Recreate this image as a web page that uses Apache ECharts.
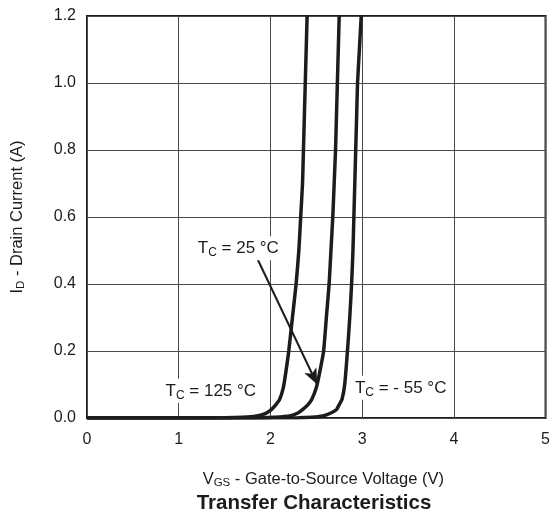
<!DOCTYPE html>
<html>
<head>
<meta charset="utf-8">
<script src="https://cdn.jsdelivr.net/npm/echarts@6/dist/echarts.min.js"></script>
<style>
  html, body { margin: 0; padding: 0; background: #fff; }
  #chart { width: 553px; height: 516px; }
</style>
</head>
<body>
<div id="chart"></div>
<script>
// Transfer characteristics: drain current vs gate-to-source voltage at three case temperatures
const xTicks = [0, 1, 2, 3, 4, 5];
const yTicks = ['0.0', '0.2', '0.4', '0.6', '0.8', '1.0', '1.2'];

// [VGS (V), ID (A)]
const curve125 = [
  [0, 0], [1.5, 0.0005], [1.7, 0.002], [1.85, 0.006], [1.95, 0.014], [2.01, 0.025],
  [2.06, 0.04], [2.10, 0.055], [2.14, 0.09], [2.17, 0.14], [2.20, 0.20], [2.24, 0.30],
  [2.28, 0.40], [2.31, 0.50], [2.33, 0.60], [2.35, 0.70], [2.36, 0.80], [2.37, 0.90],
  [2.38, 1.0], [2.39, 1.1], [2.40, 1.2]
];
const curve25 = [
  [0, 0], [1.9, 0.0005], [2.05, 0.002], [2.21, 0.006], [2.30, 0.015], [2.35, 0.025],
  [2.41, 0.04], [2.45, 0.055], [2.50, 0.09], [2.54, 0.14], [2.58, 0.20], [2.61, 0.30],
  [2.64, 0.40], [2.66, 0.50], [2.68, 0.60], [2.695, 0.70], [2.71, 0.80], [2.72, 0.90],
  [2.73, 1.0], [2.74, 1.1], [2.75, 1.2]
];
const curveMinus55 = [
  [0, 0], [2.3, 0.0005], [2.45, 0.002], [2.57, 0.006], [2.66, 0.015], [2.72, 0.025],
  [2.75, 0.04], [2.78, 0.055], [2.81, 0.10], [2.84, 0.20], [2.865, 0.30], [2.885, 0.40],
  [2.90, 0.50], [2.91, 0.60], [2.92, 0.70], [2.93, 0.80], [2.94, 0.90], [2.95, 1.0],
  [2.97, 1.1], [2.99, 1.2]
];

// Temperature annotations: [VGS, ID] anchor, temperature text
const annoTemps = [
  { at: [1.65, 0.507], t: '25' },
  { at: [1.35, 0.081], t: '125' },
  { at: [3.42, 0.090], t: '- 55' }
];
// Arrow from the 25 °C label to its curve
const arrowFrom = [1.85, 0.48];
const arrowTo = [2.51, 0.10];

const FONT = 'Liberation Sans, Arial, Helvetica, sans-serif';
const INK = '#1d1b1c';

const chart = echarts.init(document.getElementById('chart'), null, { renderer: 'canvas' });

const annoRich = {
  a: { fontSize: 17, fontFamily: FONT, color: INK },
  s: { fontSize: 12, fontFamily: FONT, color: INK, padding: [10, 0, 0, 0] }
};

function curveSeries(data, extra) {
  return Object.assign({
    type: 'line',
    data: data,
    smooth: 0.2,
    showSymbol: false,
    symbol: 'none',
    lineStyle: { color: INK, width: 3.5 },
    z: 5,
    silent: true
  }, extra || {});
}

const nameRich = {
  a: { fontSize: 16.5, fontFamily: FONT, color: INK },
  s: { fontSize: 11.5, fontFamily: FONT, color: INK, padding: [8, 0, 0, 0] }
};

chart.setOption({
  animation: false,
  backgroundColor: '#fff',
  grid: {
    left: 87, top: 16, right: 6, bottom: 98,
    show: true, borderColor: INK, borderWidth: 2
  },
  xAxis: {
    type: 'value',
    min: xTicks[0], max: xTicks[xTicks.length - 1], interval: 1,
    axisLine: { show: false },
    axisTick: { show: false },
    axisLabel: { fontSize: 16, fontFamily: FONT, color: INK, margin: 14 },
    splitLine: { show: true, lineStyle: { color: '#4a4a4a', width: 1 } },
    name: '{a|V}{s|GS}{a| - Gate-to-Source Voltage (V)}',
    nameLocation: 'middle',
    nameGap: 51,
    nameTextStyle: { padding: [0, 0, 0, 14], rich: nameRich }
  },
  yAxis: {
    type: 'value',
    min: 0, max: 1.2, interval: 0.2,
    axisLine: { show: false },
    axisTick: { show: false },
    axisLabel: {
      fontSize: 16, fontFamily: FONT, color: INK, margin: 11,
      formatter: (v) => yTicks[Math.round(v / 0.2)]
    },
    splitLine: { show: true, lineStyle: { color: '#4a4a4a', width: 1 } },
    name: '{a|I}{s|D}{a| - Drain Current (A)}',
    nameLocation: 'middle',
    nameGap: 60,
    nameTextStyle: { rich: nameRich }
  },
  graphic: [{
    type: 'text',
    x: 314, y: 503,
    style: {
      text: 'Transfer Characteristics',
      fontSize: 20.5, fontWeight: 'bold', fontFamily: FONT,
      fill: INK, align: 'center', verticalAlign: 'middle'
    }
  }],
  series: [
    curveSeries(curve125),
    curveSeries(curve25),
    curveSeries(curveMinus55, {
      markPoint: {
        symbol: 'circle', symbolSize: 0, silent: true,
        label: {
          show: true, position: 'inside',
          backgroundColor: '#fff', padding: [1, 3, 1, 3],
          rich: annoRich
        },
        data: annoTemps.map((d) => ({
          coord: d.at,
          label: { formatter: '{a|T}{s|C}{a| = ' + d.t + ' °C}' }
        }))
      },
      markLine: {
        silent: true,
        symbol: ['none', 'arrow'],
        symbolSize: [10, 16],
        label: { show: false },
        lineStyle: { color: INK, width: 2, type: 'solid' },
        data: [[{ coord: arrowFrom }, { coord: arrowTo }]]
      }
    })
  ]
});
</script>
</body>
</html>
